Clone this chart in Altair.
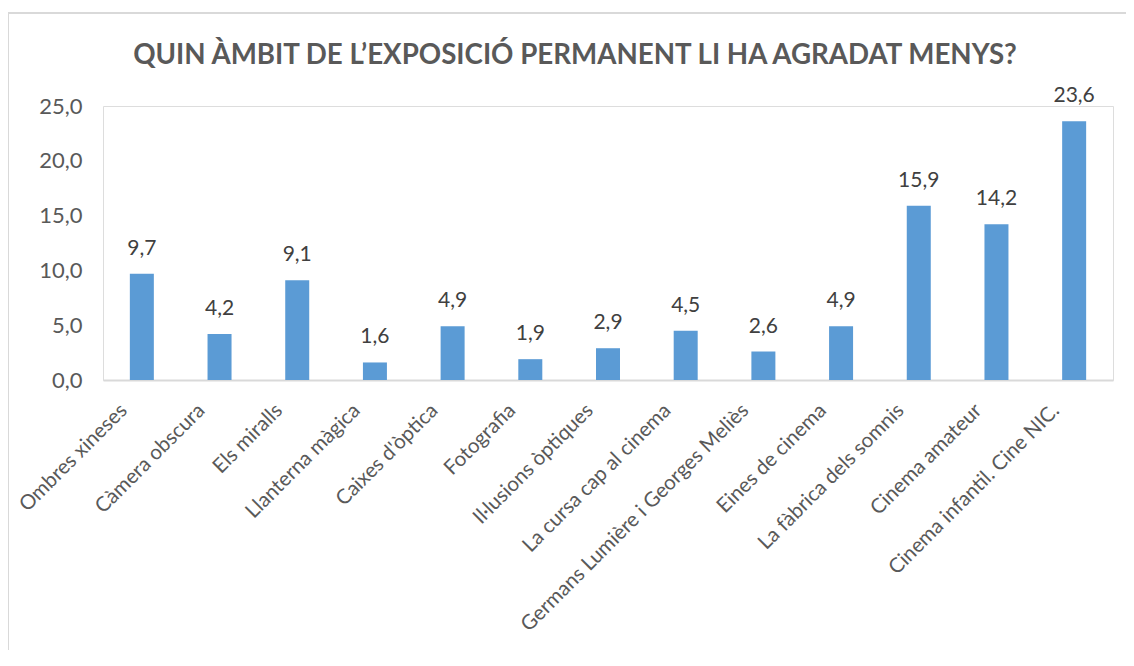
import altair as alt
import pandas as pd

categories = [
    "Ombres xineses",
    "Càmera obscura",
    "Els miralls",
    "Llanterna màgica",
    "Caixes d'òptica",
    "Fotografia",
    "Il·lusions òptiques",
    "La cursa cap al cinema",
    "Germans Lumière i Georges Meliès",
    "Eines de cinema",
    "La fàbrica dels somnis",
    "Cinema amateur",
    "Cinema infantil. Cine NIC.",
]
values = [9.7, 4.2, 9.1, 1.6, 4.9, 1.9, 2.9, 4.5, 2.6, 4.9, 15.9, 14.2, 23.6]
y_ticks = [0, 5, 10, 15, 20, 25]
title_text = "QUIN ÀMBIT DE L’EXPOSICIÓ PERMANENT LI HA AGRADAT MENYS?"

df = pd.DataFrame({"cat": categories, "val": values})

FONT = "Lato"
TXT = "#595959"

base = alt.Chart(df).encode(
    x=alt.X(
        "cat:N",
        sort=categories,
        title=None,
        scale=alt.Scale(paddingInner=0, paddingOuter=0),
        axis=alt.Axis(
            labelAngle=-45,
            labelFont=FONT,
            labelFontSize=20.5,
            labelColor=TXT,
            labelPadding=20,
            labelOffset=-25,
            ticks=False,
            domainColor="#D9D9D9",
            domainWidth=2,
            labelLimit=400,
        ),
    ),
    y=alt.Y(
        "val:Q",
        title=None,
        scale=alt.Scale(domain=[0, 25], nice=False),
        axis=alt.Axis(
            values=y_ticks,
            labelExpr="replace(format(datum.value, '.1f'), '.', ',')",
            labelFont=FONT,
            labelFontSize=22,
            labelColor=TXT,
            labelPadding=21,
            domain=False,
            ticks=False,
            grid=False,
        ),
    ),
)

bars = base.mark_bar(color="#5B9BD5", size=24)

labels = base.transform_calculate(
    lbl="replace(format(datum.val, '.1f'), '.', ',')"
).mark_text(
    baseline="bottom", dy=-15, font=FONT, fontSize=21, color="#404040"
).encode(text="lbl:N")

frame_df = pd.DataFrame({"k": [0]})
top_line = alt.Chart(frame_df).mark_rule(color="#D9D9D9", strokeWidth=2).encode(
    x=alt.value(-96), x2=alt.value(1040), y=alt.value(-93)
)
left_line = alt.Chart(frame_df).mark_rule(color="#D9D9D9", strokeWidth=2).encode(
    x=alt.value(-95), y=alt.value(-93), y2=alt.value(600)
)

title_df = pd.DataFrame({"t": [title_text]})
title_mark = alt.Chart(title_df).mark_text(
    font=FONT,
    fontSize=27.7,
    fontWeight="bold",
    color=TXT,
    align="center",
    baseline="alphabetic",
).encode(text="t:N", x=alt.value(472), y=alt.value(-42))

chart = (
    alt.layer(top_line, left_line, title_mark, bars, labels)
    .properties(
        width=1010,
        height=274,
        autosize=alt.AutoSizeParams(type="none"),
        padding={"left": 95, "top": 98, "right": 13, "bottom": 270},
    )
    .configure_view(stroke=None)
    .configure(background="white")
)

chart.save("out.html", embed_options={"renderer": "svg", "actions": False})
